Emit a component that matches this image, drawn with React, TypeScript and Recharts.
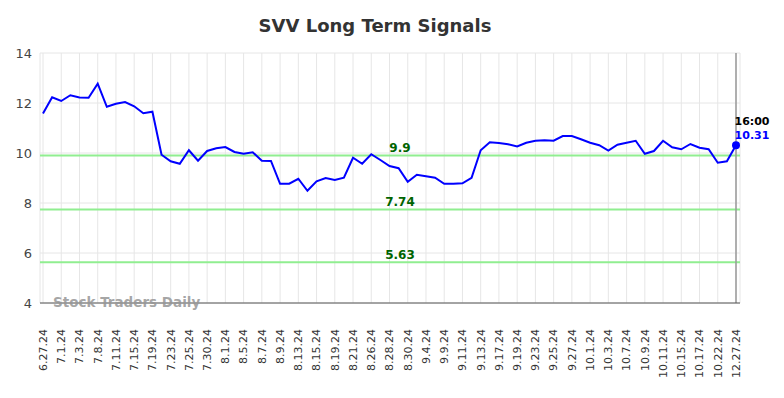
import React from 'react';
import {
  LineChart,
  Line,
  XAxis,
  YAxis,
  CartesianGrid,
  ReferenceLine,
} from 'recharts';

// labels shown on the x axis (every other trading day)
const tickLabels = [
  '6.27.24', '7.1.24', '7.3.24', '7.8.24', '7.11.24', '7.15.24', '7.19.24', '7.23.24',
  '7.25.24', '7.30.24', '8.1.24', '8.5.24', '8.7.24', '8.9.24', '8.13.24', '8.15.24',
  '8.19.24', '8.21.24', '8.26.24', '8.28.24', '8.30.24', '9.4.24', '9.9.24', '9.11.24',
  '9.13.24', '9.17.24', '9.19.24', '9.23.24', '9.25.24', '9.27.24', '10.1.24', '10.3.24',
  '10.7.24', '10.9.24', '10.11.24', '10.15.24', '10.17.24', '10.22.24', '12.27.24',
];

// closing prices, one per trading day
const prices = [
  11.58, 12.23, 12.08, 12.31, 12.22, 12.21, 12.77, 11.85, 11.97, 12.04,
  11.87, 11.59, 11.65, 9.93, 9.67, 9.57, 10.11, 9.69, 10.08, 10.19,
  10.24, 10.04, 9.97, 10.03, 9.69, 9.68, 8.77, 8.77, 8.97, 8.49,
  8.87, 9.0, 8.92, 9.01, 9.81, 9.57, 9.95, 9.72, 9.48, 9.39,
  8.85, 9.13, 9.07, 9.01, 8.77, 8.77, 8.79, 9.01, 10.11, 10.43,
  10.4, 10.35, 10.26, 10.41, 10.49, 10.51, 10.49, 10.68, 10.68, 10.55,
  10.41, 10.31, 10.1, 10.33, 10.41, 10.49, 9.97, 10.08, 10.49, 10.23,
  10.15, 10.36, 10.21, 10.15, 9.61, 9.67, 10.31,
];

const signalLevels = [9.9, 7.74, 5.63];
const yTicks = [4, 6, 8, 10, 12, 14];

const data = prices.map((price, idx) => ({ idx, price }));
const xTicks = tickLabels.map((_, i) => i * 2);
const lastIdx = prices.length - 1;

const FONT = '"DejaVu Sans", sans-serif';

const XTick = ({ x, y, payload }: { x?: number; y?: number; payload?: { value: number } }) => {
  const label = tickLabels[(payload?.value ?? 0) / 2] ?? '';
  return (
    <g transform={`translate(${x},${(y ?? 0) + 18})`}>
      <text
        transform="rotate(-90)"
        textAnchor="end"
        dy="0.35em"
        fontSize={11}
        fill="#333"
        fontFamily={FONT}
      >
        {label}
      </text>
    </g>
  );
};

const LastDot = (props: { cx?: number; cy?: number; index?: number }) => {
  const { cx, cy, index } = props;
  if (index !== lastIdx || cx == null || cy == null) return <g key={`d${index}`} />;
  return (
    <g key={`d${index}`}>
      <circle cx={cx} cy={cy} r={4} fill="#0000ff" />
      <text x={cx + 16} y={cy - 20} textAnchor="middle" fontSize={11} fontWeight="bold" fill="#000" fontFamily={FONT}>
        16:00
      </text>
      <text x={cx + 16} y={cy - 6} textAnchor="middle" fontSize={11} fontWeight="bold" fill="#0000ff" fontFamily={FONT}>
        {prices[lastIdx]}
      </text>
    </g>
  );
};

export default function App() {
  return (
    <div style={{ position: 'absolute', left: 0, top: 0, width: 784, height: 398, background: '#fff', fontFamily: FONT }}>
      <div
        style={{
          position: 'absolute',
          top: 15,
          left: 0,
          width: 750,
          textAlign: 'center',
          fontSize: 18,
          fontWeight: 'bold',
          color: '#333',
        }}
      >
        SVV Long Term Signals
      </div>
      <LineChart
        width={784}
        height={398}
        data={data}
        margin={{ top: 53, right: 44, left: 10, bottom: 25 }}
      >
        <CartesianGrid stroke="#e6e6e6" strokeWidth={1} />
        <XAxis
          dataKey="idx"
          type="number"
          domain={[0, lastIdx]}
          ticks={xTicks}
          interval={0}
          padding={{ left: 3, right: 4 }}
          tick={<XTick />}
          tickLine={false}
          axisLine={{ stroke: '#555', strokeWidth: 1 }}
          height={70}
        />
        <YAxis
          domain={[4, 14]}
          ticks={yTicks}
          width={30}
          axisLine={false}
          tickLine={false}
          tick={{ fontSize: 13, fill: '#444', fontFamily: FONT }}
        />
        {signalLevels.map((v) => (
          <ReferenceLine
            key={v}
            y={v}
            stroke="#90ee90"
            strokeWidth={2}
            label={{
              value: String(v),
              position: 'center',
              dx: 10,
              dy: -8,
              fill: '#006400',
              fontSize: 12,
              fontWeight: 'bold',
              fontFamily: FONT,
            }}
          />
        ))}
        <ReferenceLine x={lastIdx} stroke="#999" strokeWidth={1.5} />
        <Line
          type="linear"
          dataKey="price"
          stroke="#0000ff"
          strokeWidth={2}
          dot={LastDot}
          activeDot={false}
          isAnimationActive={false}
        />
      </LineChart>
      <div
        style={{
          position: 'absolute',
          left: 53,
          top: 294,
          fontSize: 13.5,
          fontWeight: 'bold',
          color: 'rgba(150,150,150,0.85)',
        }}
      >
        Stock Traders Daily
      </div>
    </div>
  );
}
